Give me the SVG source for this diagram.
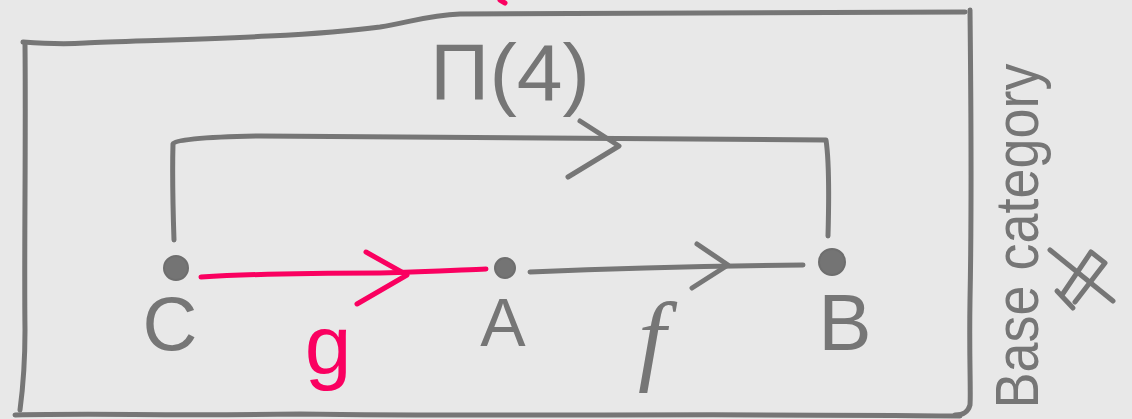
<svg xmlns="http://www.w3.org/2000/svg" width="1132" height="419" viewBox="0 0 1132 419">
  <style>
    .ink { fill: none; stroke: #767676; stroke-width: 5; stroke-linecap: round; stroke-linejoin: round; }
    .red { fill: none; stroke: #fa0060; stroke-width: 5; stroke-linecap: round; stroke-linejoin: round; }
    .dot { fill: #747474; stroke: #6e6e6e; stroke-width: 2; }
    .lbl { font-family: "Liberation Sans", "DejaVu Sans", sans-serif; fill: #767676; text-anchor: middle; }
  </style>
  <rect width="1132" height="419" fill="#e8e8e8"/>

  <!-- frame of the base category -->
  <g id="frame">
    <path class="ink" d="M23 42 C50 44 70 44 85 43 C150 40 300 38 380 27 C410 22 430 15 460 14 L965 12"/>
    <path class="ink" d="M970 10 C971 100 972 200 970 300 C969 360 971 390 970 405 C968 412 964 415 955 415"/>
    <path class="ink" d="M15 415 C100 413 160 416 300 414 C500 417 700 413 960 416"/>
    <path class="ink" d="M25 44 C26 150 24 250 25 330 C25 370 22 395 20 410"/>
    <path class="red" d="M500 0 L505 3"/>
  </g>

  <g id="label-pi">
    <text class="lbl" x="510" y="100" font-size="80" textLength="160" lengthAdjust="spacingAndGlyphs">Π(4)</text>
  </g>

  <g id="label-base">
    <text class="lbl" transform="translate(1038 236) rotate(-90)" x="0" y="0" font-size="62" textLength="345" lengthAdjust="spacingAndGlyphs">Base category</text>
    <g class="ink">
      <path d="M1050 250 L1113 301"/>
      <path d="M1062 295 L1091 252 L1105 263 L1075 302"/>
      <path d="M1057 291 L1073 308"/>
    </g>
  </g>

  <!-- connectors -->
  <g id="connectors">
    <!-- Π(4): C to B over the top -->
    <path class="ink" d="M174 240 C173 210 172 180 173 144 C175 140 200 137 260 136 C400 136 600 140 826 140 C829 160 829 200 828 236"/>
    <path class="ink" d="M580 121 L619 146 L568 177"/>
    <!-- g: C to A -->
    <path class="red" d="M201 277 C250 274 300 273 380 273 C430 272 460 270 486 269"/>
    <path class="red" d="M366 252 L407 275 L357 304"/>
    <!-- f: A to B -->
    <path class="ink" d="M530 272 C600 269 700 266 803 265"/>
    <path class="ink" d="M697 244 L728 265 L692 288"/>
  </g>

  <g id="node-C">
    <circle class="dot" cx="176" cy="268" r="12"/>
    <text class="lbl" x="170" y="350" font-size="76">C</text>
  </g>
  <g id="node-A">
    <circle class="dot" cx="505" cy="268" r="10"/>
    <text class="lbl" x="503" y="346" font-size="68">A</text>
  </g>
  <g id="node-B">
    <circle class="dot" cx="832" cy="262" r="13"/>
    <text class="lbl" x="845" y="350" font-size="80">B</text>
  </g>

  <g id="label-g">
    <text class="lbl" x="328" y="374" font-size="84" style="fill:#fa0060">g</text>
  </g>
  <g id="label-f">
    <text class="lbl" x="652" y="372" font-size="100" font-style="italic" style="font-family:'Liberation Serif', serif">f</text>
  </g>
</svg>
